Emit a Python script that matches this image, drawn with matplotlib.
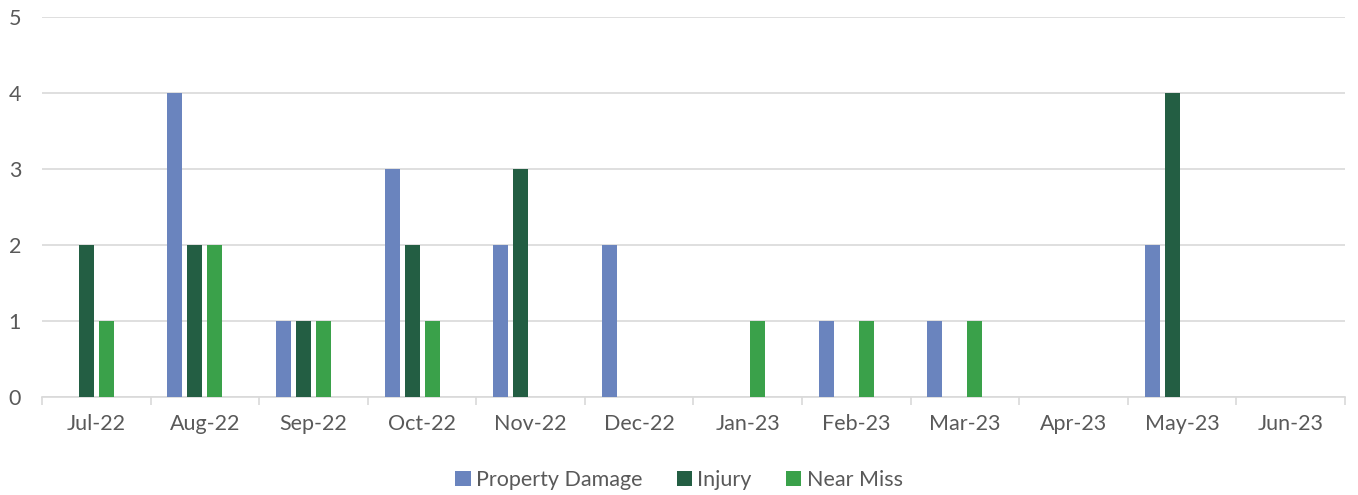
import numpy as np
import matplotlib
import matplotlib.pyplot as plt

matplotlib.use("Agg")

months = ["Jul-22", "Aug-22", "Sep-22", "Oct-22", "Nov-22", "Dec-22",
          "Jan-23", "Feb-23", "Mar-23", "Apr-23", "May-23", "Jun-23"]
property_damage = [0, 4, 1, 3, 2, 2, 0, 1, 1, 0, 2, 0]
injury = [2, 2, 1, 2, 3, 0, 0, 0, 0, 0, 4, 0]
near_miss = [1, 2, 1, 1, 0, 0, 1, 1, 1, 0, 0, 0]

series = [("Property Damage", property_damage, "#6A84BE"),
          ("Injury", injury, "#235E43"),
          ("Near Miss", near_miss, "#3AA14A")]

plt.rcParams['font.family'] = ['Lato', 'DejaVu Sans']
text_color = "#595959"
grid_color = "#D9D9D9"
fsize = 15.5

fig = plt.figure(figsize=(13.58, 4.95), dpi=100)
ax = fig.add_axes([42 / 1358, 98 / 495, 1303 / 1358, 380 / 495])

x = np.arange(len(months))
step = 20 / 108.6
width = 15 / 108.6
# excel layout leaves room for a fourth (empty) slot
offsets = [-1.5, -0.5, 0.5]
for (name, vals, color), off in zip(series, offsets):
    ax.bar(x + off * step, vals, width=width, color=color, label=name, zorder=3)

ax.set_xlim(-0.5, len(months) - 0.5)
ax.set_ylim(0, 5)
ax.set_yticks(range(6))
ax.yaxis.grid(True, color=grid_color, linewidth=1.2, zorder=0)
ax.set_axisbelow(True)

for side in ['top', 'right', 'left']:
    ax.spines[side].set_visible(False)
ax.spines['bottom'].set_color(grid_color)
ax.spines['bottom'].set_linewidth(1.2)

ax.set_xticks(x)
ax.set_xticklabels(months)
ax.set_xticks(np.arange(-0.5, len(months)), minor=True)
ax.tick_params(axis='x', which='major', length=0, pad=12, labelsize=fsize, labelcolor=text_color)
ax.tick_params(axis='x', which='minor', length=6, width=1.2, color=grid_color)
ax.tick_params(axis='y', length=0, pad=15, labelsize=fsize, labelcolor=text_color)

leg = fig.legend(loc='center', bbox_to_anchor=(0.5, 1 - 480 / 495), ncol=3, frameon=False,
                 fontsize=fsize, handlelength=0.7, handleheight=0.7, handletextpad=0.25,
                 columnspacing=1.6)
for t in leg.get_texts():
    t.set_color(text_color)

fig.savefig("out.png", dpi=100)
